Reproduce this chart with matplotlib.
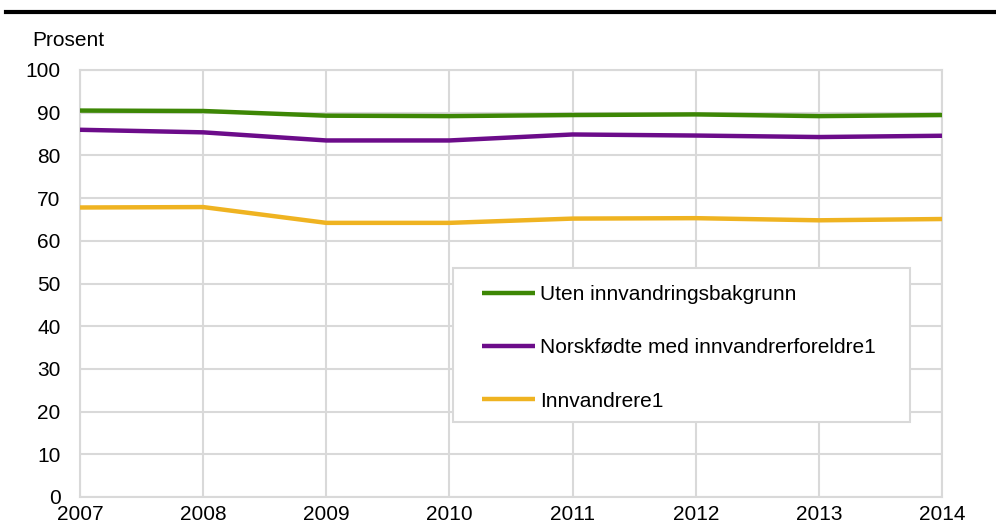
import matplotlib.pyplot as plt
from matplotlib.lines import Line2D
from matplotlib.patches import Rectangle

years = [2007, 2008, 2009, 2010, 2011, 2012, 2013, 2014]
uten = [90.5, 90.4, 89.3, 89.2, 89.45, 89.6, 89.2, 89.45]
norskfodte = [86.0, 85.4, 83.5, 83.5, 84.9, 84.65, 84.3, 84.6]
innvandrere = [67.8, 67.9, 64.2, 64.2, 65.2, 65.3, 64.8, 65.1]
labels = ["Uten innvandringsbakgrunn", "Norskfødte med innvandrerforeldre1", "Innvandrere1"]
colors = ["#3d8705", "#6c0c8a", "#efb321"]
yticks = list(range(0, 101, 10))

plt.rcParams['font.family'] = ['Liberation Sans', 'DejaVu Sans']
fig = plt.figure(figsize=(9.96, 5.24), dpi=100)
W, H = 996, 524
ax = fig.add_axes([80 / W, 1 - 497 / H, (942 - 80) / W, (497 - 70) / H])

grid_c = "#d9d9d9"
for series, c, lab in zip([uten, norskfodte, innvandrere], colors, labels):
	ax.plot(years, series, color=c, lw=3.2, label=lab, solid_capstyle='butt', zorder=3)

ax.set_xlim(2007, 2014)
ax.set_ylim(0, 100)
ax.set_xticks(years)
ax.set_yticks(yticks)
ax.grid(True, color=grid_c, lw=1.5)
ax.set_axisbelow(True)
for s in ax.spines.values():
	s.set_color(grid_c)
	s.set_linewidth(1.5)
ax.tick_params(length=0, labelsize=15, colors="black")
ax.tick_params(axis='x', pad=6)
ax.tick_params(axis='y', pad=14)

fig.text(32 / W, 1 - 40 / H, "Prosent", fontsize=15, va='center', ha='left')

# thick black line at the top
fig.add_artist(Line2D([6 / W, 1.0], [1 - 12 / H, 1 - 12 / H], color="black", lw=3, transform=fig.transFigure))

# legend box drawn by hand inside the axes, legend itself without frame
box = Rectangle((453 / W, 1 - 422 / H), (910 - 453) / W, (422 - 268) / H,
	transform=fig.transFigure, facecolor="white", edgecolor=grid_c, lw=1.5, zorder=4, clip_on=False)
ax.add_patch(box)
leg = ax.legend(loc='upper left', bbox_to_anchor=(482 / W, 1 - 285 / H), bbox_transform=fig.transFigure,
	fontsize=15, handlelength=2.55, handletextpad=0.25, labelspacing=1.65, borderpad=0,
	frameon=False, borderaxespad=0)
leg.set_zorder(5)

fig.savefig("out.png", dpi=100)
